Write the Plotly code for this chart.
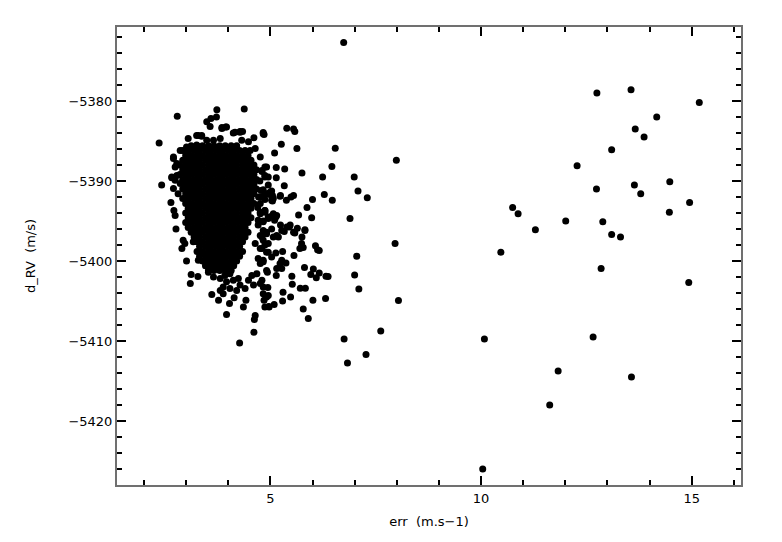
import plotly.graph_objects as go

# ---- dense core of the cluster (estimated rows: y value, x positions) ----
core_row_y = [-5385.6, -5386.2, -5386.8, -5387.4, -5388.0, -5388.6, -5389.2, -5389.8,
              -5390.4, -5391.0, -5391.6, -5392.2, -5392.8, -5393.4, -5394.0, -5394.6,
              -5395.2, -5395.8, -5396.4, -5397.0, -5397.6, -5398.2, -5398.8, -5399.4,
              -5400.0, -5400.6, -5401.2]
core_row_x = [
    [3.12, 3.26, 3.39, 3.53, 3.66, 3.80, 3.93, 4.07, 4.20],
    [2.92, 3.05, 3.19, 3.32, 3.46, 3.59, 3.73, 3.86, 4.00, 4.13, 4.27, 4.40],
    [2.99, 3.12, 3.26, 3.39, 3.53, 3.66, 3.80, 3.93, 4.07, 4.20, 4.34, 4.47],
    [2.92, 3.05, 3.19, 3.32, 3.46, 3.59, 3.73, 3.86, 4.00, 4.13, 4.27, 4.40, 4.54],
    [2.85, 2.99, 3.12, 3.26, 3.39, 3.53, 3.66, 3.80, 3.93, 4.07, 4.20, 4.34, 4.47, 4.61],
    [2.92, 3.05, 3.19, 3.32, 3.46, 3.59, 3.73, 3.86, 4.00, 4.13, 4.27, 4.40, 4.54, 4.67],
    [2.85, 2.99, 3.12, 3.26, 3.39, 3.53, 3.66, 3.80, 3.93, 4.07, 4.20, 4.34, 4.47, 4.61],
    [2.92, 3.05, 3.19, 3.32, 3.46, 3.59, 3.73, 3.86, 4.00, 4.13, 4.27, 4.40, 4.54, 4.67],
    [2.99, 3.12, 3.26, 3.39, 3.53, 3.66, 3.80, 3.93, 4.07, 4.20, 4.34, 4.47, 4.61],
    [2.92, 3.05, 3.19, 3.32, 3.46, 3.59, 3.73, 3.86, 4.00, 4.13, 4.27, 4.40, 4.54, 4.67],
    [2.99, 3.12, 3.26, 3.39, 3.53, 3.66, 3.80, 3.93, 4.07, 4.20, 4.34, 4.47, 4.61],
    [2.92, 3.05, 3.19, 3.32, 3.46, 3.59, 3.73, 3.86, 4.00, 4.13, 4.27, 4.40, 4.54],
    [2.99, 3.12, 3.26, 3.39, 3.53, 3.66, 3.80, 3.93, 4.07, 4.20, 4.34, 4.47, 4.61],
    [3.05, 3.19, 3.32, 3.46, 3.59, 3.73, 3.86, 4.00, 4.13, 4.27, 4.40, 4.54],
    [2.99, 3.12, 3.26, 3.39, 3.53, 3.66, 3.80, 3.93, 4.07, 4.20, 4.34, 4.47],
    [3.05, 3.19, 3.32, 3.46, 3.59, 3.73, 3.86, 4.00, 4.13, 4.27, 4.40, 4.54],
    [2.99, 3.12, 3.26, 3.39, 3.53, 3.66, 3.80, 3.93, 4.07, 4.20, 4.34, 4.47],
    [3.05, 3.19, 3.32, 3.46, 3.59, 3.73, 3.86, 4.00, 4.13, 4.27, 4.40],
    [3.12, 3.26, 3.39, 3.53, 3.66, 3.80, 3.93, 4.07, 4.20, 4.34, 4.47],
    [3.19, 3.32, 3.46, 3.59, 3.73, 3.86, 4.00, 4.13, 4.27, 4.40],
    [3.26, 3.39, 3.53, 3.66, 3.80, 3.93, 4.07, 4.20, 4.34],
    [3.32, 3.46, 3.59, 3.73, 3.86, 4.00, 4.13, 4.27],
    [3.26, 3.39, 3.53, 3.66, 3.80, 3.93, 4.07, 4.20, 4.34],
    [3.32, 3.46, 3.59, 3.73, 3.86, 4.00, 4.13, 4.27],
    [3.39, 3.53, 3.66, 3.80, 3.93, 4.07, 4.20],
    [3.46, 3.59, 3.73, 3.86, 4.00, 4.13],
    [3.53, 3.66, 3.80, 3.93, 4.07],
]

# ---- halo of the cluster ----
halo_x = [2.79, 2.36, 3.73, 4.38, 3.49, 3.59, 3.72, 3.57, 3.85, 3.94, 4.83, 4.61, 3.05, 3.25,
          3.37, 4.16, 4.28, 4.34, 3.01, 2.86, 2.70, 2.78, 2.66, 2.74, 2.42, 6.74,
          3.29, 3.37, 3.49, 3.65, 3.81, 3.85, 3.96, 4.12, 4.28, 4.32, 4.48, 4.52, 4.64, 4.76,
          4.80, 4.87, 2.70, 2.74, 2.78, 2.66, 2.86, 2.70, 2.81, 3.13, 3.25,
          2.64, 2.71, 2.74, 2.76, 2.90, 2.97, 3.01, 3.12, 3.28, 3.10,
          2.93, 3.17, 3.29, 3.45, 3.57, 3.53, 3.65, 3.81, 3.92, 4.04, 3.96, 4.12, 4.24, 4.28,
          4.40, 4.48, 4.56, 4.68, 3.88, 4.04, 3.81, 4.20, 3.61, 3.77, 3.88, 4.03, 4.14, 4.36,
          4.42, 3.96, 4.64, 4.62, 4.61, 4.27,
          4.76, 4.87, 4.71, 4.83, 4.95, 4.91, 4.80, 4.64, 4.76, 4.87, 4.95, 4.71, 4.83, 4.91,
          4.80, 4.60, 4.83, 4.91, 4.87, 4.91, 4.87, 4.95, 4.91, 4.75, 4.78, 4.72, 4.76, 4.70,
          5.39, 5.55, 5.58, 4.83, 4.85, 5.26, 5.63, 6.54, 5.10, 7.99, 6.46, 5.75, 6.24, 6.99,
          5.14, 5.34, 4.87, 4.80, 4.95, 5.14, 5.33, 7.08, 7.30, 6.00, 6.28, 6.47, 5.55, 5.49,
          5.38, 5.23, 5.03, 4.98, 5.05, 4.83, 5.05, 4.87, 5.87, 6.89, 5.98, 5.67, 5.03, 5.13,
          4.87, 4.83, 4.95, 5.24, 5.45, 5.64, 5.82, 5.33, 5.58, 5.75, 5.74, 5.74, 7.96, 6.07,
          6.12, 6.16, 5.70, 5.78, 5.07, 5.19, 4.83, 4.95, 4.80, 5.29, 5.13, 4.91, 5.56, 5.27,
          5.37, 5.23, 5.03, 4.83, 4.76, 7.05, 7.00, 7.10, 8.04, 5.81, 6.02, 5.96, 6.16, 6.09,
          6.32, 6.37, 5.51, 5.52, 5.15, 5.27, 5.14, 4.93, 5.71, 5.83, 4.94, 4.76, 5.30, 5.48,
          5.29, 6.01, 6.31, 4.85, 4.97, 5.09, 5.78, 5.90, 7.62, 6.75, 7.27, 6.83,
          4.96, 4.83, 4.95, 5.24, 5.82, 4.76, 4.87, 4.99, 5.07, 5.03, 4.76, 4.87, 5.07, 5.15,
          5.10, 4.71, 4.83, 4.76, 4.91, 5.03, 5.15, 5.27, 5.39, 5.47, 5.55]
halo_y = [-5381.9, -5385.25, -5381.1, -5381.0, -5382.6, -5382.2, -5382.0, -5383.2, -5383.3,
          -5383.25, -5384.1, -5384.6, -5384.7, -5384.3, -5384.3, -5383.9, -5383.8, -5383.8,
          -5385.75, -5386.2, -5387.0, -5387.8, -5389.5, -5389.9, -5390.5, -5372.7,
          -5384.3, -5384.4, -5384.9, -5384.9, -5384.7, -5383.45, -5383.25, -5384.0, -5383.9,
          -5384.9, -5385.1, -5386.2, -5385.95, -5387.0, -5388.7, -5389.5,
          -5387.2, -5388.25, -5389.3, -5389.6, -5390.3, -5390.95, -5391.6, -5385.75, -5385.5,
          -5392.7, -5393.7, -5394.3, -5396.0, -5398.45, -5397.8, -5400.0, -5401.7, -5401.95,
          -5402.8,
          -5397.4, -5397.6, -5399.9, -5400.1, -5400.75, -5401.4, -5402.0, -5402.2, -5401.8,
          -5401.6, -5402.6, -5402.4, -5402.2, -5403.0, -5403.45, -5402.4, -5401.8, -5401.6,
          -5403.25, -5403.45, -5403.7, -5403.7, -5404.2, -5404.9, -5404.1, -5405.3, -5404.6,
          -5405.75, -5404.9, -5406.7, -5406.8, -5407.3, -5408.9, -5410.25,
          -5393.9, -5393.7, -5394.9, -5395.1, -5394.5, -5396.4, -5397.0, -5397.8, -5398.45,
          -5398.0, -5398.9, -5399.7, -5400.1, -5401.2, -5402.4, -5403.0, -5403.25, -5404.5,
          -5405.75, -5388.25, -5389.3, -5390.5, -5391.6, -5390.0, -5391.2, -5392.0, -5392.8,
          -5393.3,
          -5383.4, -5383.5, -5383.8, -5383.95, -5384.2, -5385.4, -5385.95, -5385.9, -5386.5,
          -5387.4, -5388.2, -5389.0, -5389.5, -5389.5, -5388.3, -5388.5, -5388.25, -5388.8,
          -5389.5, -5389.6, -5390.6, -5391.25, -5392.1, -5392.3, -5391.7, -5392.4, -5391.8,
          -5392.0, -5392.4, -5391.9, -5391.25, -5391.7, -5391.8, -5391.1, -5392.5, -5392.3,
          -5393.3, -5394.7, -5394.6, -5394.25, -5394.4, -5394.5, -5393.7, -5395.0, -5394.7,
          -5395.5, -5395.75, -5395.9, -5396.1, -5396.3, -5396.5, -5397.0, -5397.8, -5398.25,
          -5397.8, -5398.1, -5398.6, -5398.7, -5398.45, -5398.3, -5397.0, -5397.0, -5397.4,
          -5397.8, -5398.45, -5398.8, -5399.0, -5398.9, -5399.3, -5399.9, -5400.25, -5400.3,
          -5399.5, -5399.9, -5400.3, -5399.4, -5401.75, -5403.5, -5404.95, -5400.8, -5401.0,
          -5401.7, -5401.5, -5402.1, -5401.9, -5401.95, -5401.9, -5402.9, -5400.95, -5400.95,
          -5401.8, -5401.4, -5403.4, -5403.4, -5403.3, -5402.8, -5403.9, -5404.5, -5405.0,
          -5404.9, -5404.7, -5404.9, -5405.75, -5405.45, -5406.0, -5407.2, -5408.75, -5409.75,
          -5411.7, -5412.75,
          -5405.7, -5404.1, -5404.3, -5391.8, -5396.2, -5392.0, -5391.6, -5391.4, -5392.2,
          -5392.4, -5394.1, -5393.9, -5394.1, -5394.3, -5394.9, -5395.5, -5396.2, -5396.8,
          -5396.6, -5396.0, -5396.8, -5396.2, -5395.75, -5395.5, -5396.4]

# ---- far outliers (large errors) ----
far_x = [13.10, 12.28, 12.74, 13.64, 13.79, 10.75, 10.88, 12.01, 12.89, 11.29, 13.10, 13.31,
         10.47, 12.85, 10.08, 12.66, 11.83, 13.57, 11.63, 10.04, 13.56, 15.18, 14.17, 13.66,
         13.87, 14.48, 12.75, 14.47, 14.95, 14.93]
far_y = [-5386.1, -5388.1, -5391.0, -5390.5, -5391.6, -5393.3, -5394.1, -5395.0, -5395.1,
         -5396.1, -5396.7, -5397.0, -5398.9, -5400.95, -5409.75, -5409.5, -5413.75, -5414.5,
         -5418.0, -5426.0, -5378.6, -5380.2, -5382.0, -5383.5, -5384.5, -5390.1, -5379.0,
         -5393.9, -5392.7, -5402.7]

x_ticks = [5, 10, 15]
y_ticks = [-5420, -5410, -5400, -5390, -5380]

xs, ys = [], []
for yv, row in zip(core_row_y, core_row_x):
    xs += row
    ys += [yv] * len(row)
xs += halo_x + far_x
ys += halo_y + far_y

fig = go.Figure()
fig.add_trace(go.Scatter(x=xs, y=ys, mode="markers",
                         marker=dict(size=7, color="black", line=dict(width=0)),
                         hoverinfo="skip", showlegend=False))

font = dict(family="DejaVu Sans", size=13, color="black")
axis_common = dict(showgrid=False, zeroline=False, showline=True, linecolor="#707070",
                   linewidth=2, mirror="ticks", ticks="inside", ticklen=9, tickwidth=1.5,
                   tickcolor="black", tickfont=font)
fig.update_xaxes(range=[1.36, 16.17], tickvals=x_ticks, ticktext=[str(v) for v in x_ticks],
                 minor=dict(ticks="inside", ticklen=5, tickwidth=1.5, dtick=1, tick0=0,
                            tickcolor="black", showgrid=False),
                 title=dict(text="err  (m.s\u22121)", font=font, standoff=12), **axis_common)
fig.update_yaxes(range=[-5428.0, -5370.75], tickvals=y_ticks,
                 ticktext=["\u2212" + str(abs(v)) for v in y_ticks],
                 minor=dict(ticks="inside", ticklen=5, tickwidth=1.5, dtick=2, tick0=0,
                            tickcolor="black", showgrid=False),
                 title=dict(text="d_RV  (m/s)", font=font, standoff=30), **axis_common)
fig.update_layout(width=774, height=534, plot_bgcolor="white", paper_bgcolor="white",
                  margin=dict(l=109, r=41, t=19, b=57), font=font)
fig.write_html("out.html")
